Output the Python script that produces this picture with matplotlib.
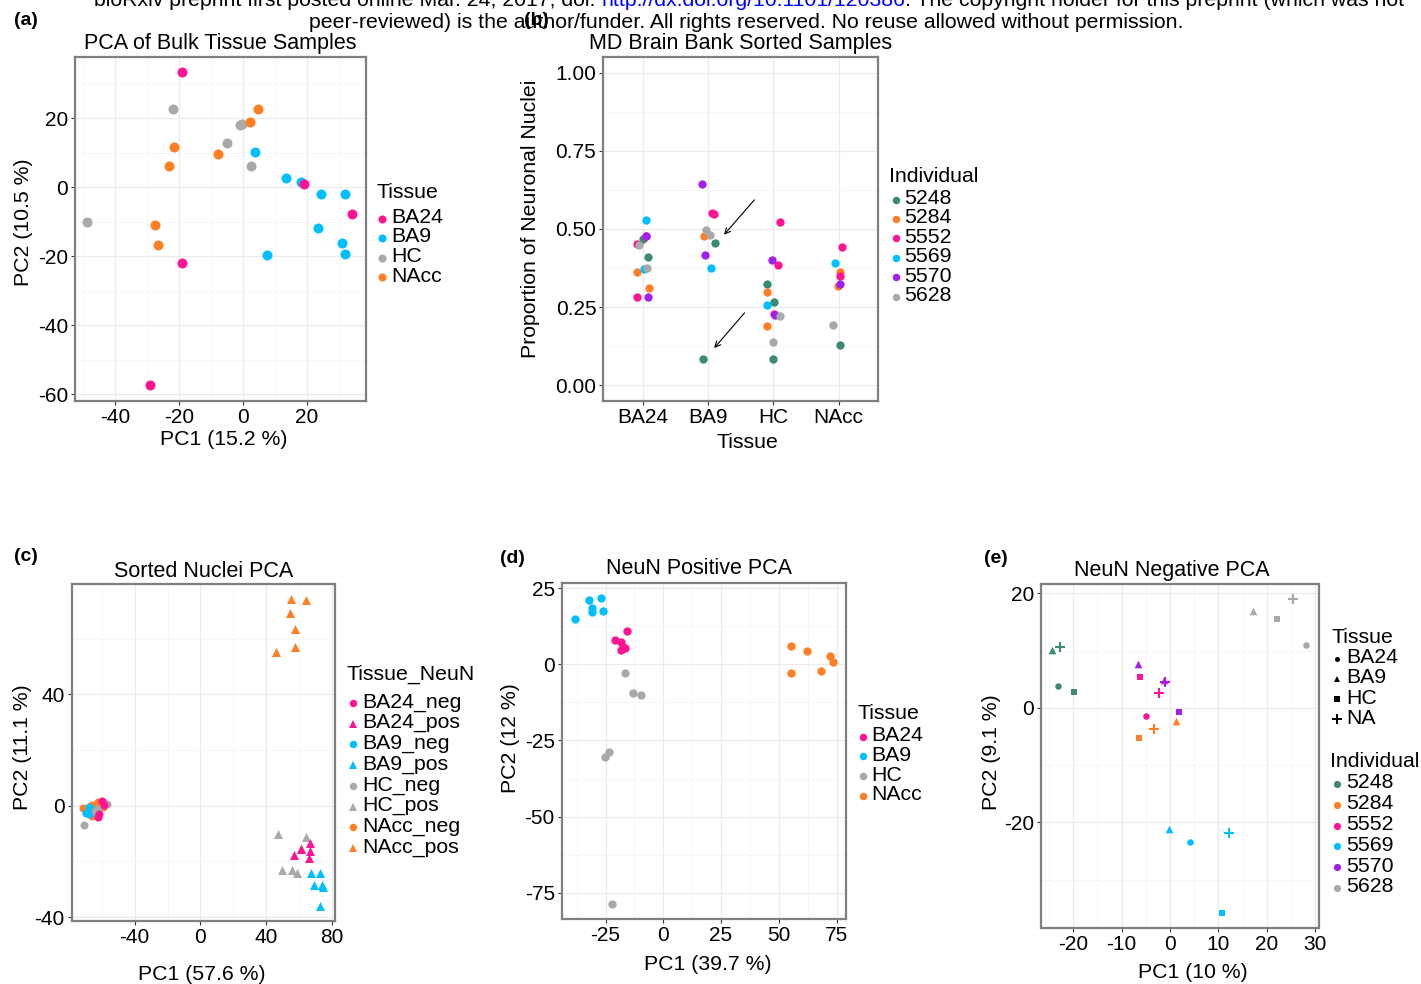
import matplotlib.pyplot as plt
from matplotlib.lines import Line2D

plt.rcParams['font.family'] = ['Liberation Sans', 'DejaVu Sans']
plt.rcParams['axes.unicode_minus'] = False

W, H = 1421, 984

PINK = '#FF1493'
BLUE = '#00BFFF'
GRAY = '#A9A9A9'
ORANGE = '#FF7F24'
GREEN = '#3B8B6E'
PURPLE = '#A020F0'

# ---------- (a) bulk tissue PCA ----------
bulk_tissues = ['BA24', 'BA9', 'HC', 'NAcc']
bulk_colors = [PINK, BLUE, GRAY, ORANGE]
bulk_pc1 = {
    'BA24': [-19.2, 19.0, 34.1, -19.0, -29.3],
    'BA9': [3.7, 13.5, 18.2, 24.6, 32.1, 23.6, 31.1, 32.1, 7.4],
    'HC': [-22.0, -0.9, -0.4, -4.9, 2.5, -49.0],
    'NAcc': [4.8, 2.3, -21.7, -7.7, -23.2, -27.5, -26.7],
}
bulk_pc2 = {
    'BA24': [33.4, 0.9, -7.7, -22.0, -57.4],
    'BA9': [10.4, 2.6, 1.6, -2.0, -1.9, -11.8, -16.2, -19.4, -19.6],
    'HC': [22.8, 18.2, 18.5, 12.9, 6.2, -10.0],
    'NAcc': [22.6, 19.0, 11.7, 9.8, 6.1, -11.0, -16.8],
}

# ---------- (b) proportion of neuronal nuclei ----------
individuals = ['5248', '5284', '5552', '5569', '5570', '5628']
indiv_colors = [GREEN, ORANGE, PINK, BLUE, PURPLE, GRAY]
sorted_tissues = ['BA24', 'BA9', 'HC', 'NAcc']
neun_indiv = ['5248'] * 8 + ['5284'] * 7 + ['5552'] * 10 + ['5569'] * 5 + ['5570'] * 7 + ['5628'] * 7
neun_tissue = ['BA24', 'BA24', 'BA9', 'BA9', 'HC', 'HC', 'HC', 'NAcc',
               'BA24', 'BA24', 'BA9', 'HC', 'HC', 'NAcc', 'NAcc',
               'BA24', 'BA24', 'BA24', 'BA9', 'BA9', 'HC', 'HC', 'HC', 'NAcc', 'NAcc',
               'BA24', 'BA24', 'BA9', 'HC', 'NAcc',
               'BA24', 'BA24', 'BA9', 'BA9', 'HC', 'HC', 'NAcc',
               'BA24', 'BA24', 'BA9', 'BA9', 'HC', 'HC', 'NAcc']
neun_jitter = [0.01, 0.09, 0.11, -0.08, -0.09, 0.01, -0.01, 0.02,
               -0.08, 0.10, -0.06, -0.09, -0.10, 0.03, -0.01,
               -0.09, 0.06, -0.09, 0.07, 0.09, 0.10, 0.07, 0.01, 0.06, 0.02,
               0.05, 0.03, 0.05, -0.09, -0.05,
               0.06, 0.09, -0.09, -0.04, -0.02, 0.03, 0.02,
               -0.06, 0.07, -0.03, 0.04, 0.10, 0.00, -0.09]
neun_prop = [0.469, 0.410, 0.456, 0.084, 0.323, 0.265, 0.085, 0.127,
             0.361, 0.310, 0.478, 0.297, 0.189, 0.361, 0.316,
             0.453, 0.476, 0.282, 0.551, 0.547, 0.524, 0.385, 0.228, 0.442, 0.350,
             0.528, 0.371, 0.375, 0.256, 0.391,
             0.477, 0.283, 0.645, 0.417, 0.401, 0.226, 0.324,
             0.449, 0.376, 0.498, 0.480, 0.220, 0.138, 0.191]

# ---------- (c) sorted nuclei PCA ----------
sorted_groups = ['BA24_neg', 'BA24_pos', 'BA9_neg', 'BA9_pos',
                 'HC_neg', 'HC_pos', 'NAcc_neg', 'NAcc_pos']
sorted_colors = [PINK, PINK, BLUE, BLUE, GRAY, GRAY, ORANGE, ORANGE]
sorted_pc1 = {
    'BA24_neg': [-62.5, -60.0, -58.8, -61.5],
    'BA9_neg': [-69.6, -67.5, -68.0, -65.5],
    'HC_neg': [-70.6, -57.0, -62.1, -64.0],
    'NAcc_neg': [-71.6, -66.1, -62.1, -59.4, -64.8, -65.8],
    'HC_pos': [47.5, 64.5, 60.9, 49.5, 55.6, 59.0],
    'BA24_pos': [66.9, 57.2, 66.9, 66.1, 61.5],
    'BA9_pos': [67.3, 72.8, 69.0, 73.8, 74.8, 72.8],
    'NAcc_pos': [55.2, 64.3, 54.8, 57.4, 57.6, 46.2],
}
sorted_pc2 = {
    'BA24_neg': [-4.0, 1.7, 0.3, -3.0],
    'BA9_neg': [-2.5, -0.4, -3.0, -1.5],
    'HC_neg': [-6.8, 0.5, -1.3, -2.0],
    'NAcc_neg': [-0.7, -3.7, 1.4, -0.4, -2.7, 0.3],
    'HC_pos': [-10.2, -11.4, -15.2, -23.1, -23.1, -24.3],
    'BA24_pos': [-13.3, -17.6, -16.4, -18.9, -15.7],
    'BA9_pos': [-24.3, -24.3, -28.5, -28.5, -29.1, -35.9],
    'NAcc_pos': [74.3, 73.9, 69.1, 63.6, 56.9, 55.1],
}

# ---------- (d) NeuN positive PCA ----------
pos_pc1 = {
    'BA9': [-38.2, -32.2, -26.8, -31.0, -30.7, -26.1],
    'BA24': [-15.6, -21.1, -18.2, -17.6, -18.5, -16.7],
    'HC': [-16.5, -13.1, -9.7, -23.5, -25.3, -22.4],
    'NAcc': [55.4, 62.3, 72.2, 73.6, 55.4, 68.3],
}
pos_pc2 = {
    'BA9': [14.9, 21.1, 21.8, 18.4, 17.1, 17.6],
    'BA24': [11.1, 7.9, 7.3, 5.6, 4.7, 5.3],
    'HC': [-2.8, -9.5, -10.0, -28.7, -30.3, -78.6],
    'NAcc': [6.0, 4.5, 2.8, 0.8, -2.7, -2.3],
}

# ---------- (e) NeuN negative PCA ----------
neg_tissues = ['BA24', 'BA9', 'HC', 'NA']
neg_markers = {'BA24': 'o', 'BA9': '^', 'HC': 's', 'NA': '+'}
neg_sizes = {'BA24': 22, 'BA9': 30, 'HC': 22, 'NA': 55}
neg_indiv = ['5248', '5248', '5248', '5248',
             '5552', '5552', '5552', '5552',
             '5570', '5570', '5570',
             '5284', '5284', '5284',
             '5569', '5569', '5569', '5569',
             '5628', '5628', '5628', '5628']
neg_tissue = ['BA9', 'NA', 'BA24', 'HC',
              'BA9', 'HC', 'NA', 'BA24',
              'BA9', 'NA', 'HC',
              'NA', 'BA9', 'HC',
              'BA9', 'BA24', 'NA', 'HC',
              'BA9', 'HC', 'NA', 'BA24']
neg_pc1 = [-24.3, -22.7, -23.1, -19.9,
           -1.2, -6.1, -2.3, -5.0,
           -6.7, -1.1, 1.9,
           -3.4, 1.2, -6.5,
           -0.2, 4.2, 12.1, 10.8,
           17.1, 22.1, 25.4, 28.1]
neg_pc2 = [10.1, 10.7, 3.8, 2.7,
           4.9, 5.4, 2.6, -1.4,
           7.6, 4.6, -0.8,
           -3.7, -2.3, -5.2,
           -21.2, -23.4, -21.9, -35.9,
           16.9, 15.6, 19.0, 11.0]

TICK = 15
LAB = 15.3
TITLE = 15.5
LEG = 15.3


def gg_axes(ax, xlim, ylim, xmajor, ymajor, xminor, yminor):
    ax.set_xlim(xlim)
    ax.set_ylim(ylim)
    ax.set_xticks(xmajor)
    ax.set_yticks(ymajor)
    if xminor:
        ax.set_xticks(xminor, minor=True)
    ax.set_yticks(yminor, minor=True)
    ax.grid(True, which='major', color='#EBEBEB', lw=0.9)
    ax.grid(True, which='minor', color='#F3F3F3', lw=0.5)
    ax.set_axisbelow(True)
    ax.tick_params(which='major', length=3, width=0.8, color='#333333',
                   labelsize=TICK, pad=2)
    ax.tick_params(which='minor', length=0)
    for s in ax.spines.values():
        s.set_color('#7F7F7F')
        s.set_linewidth(1.6)


def fpos(left, top, right, bottom):
    return [left / W, 1 - bottom / H, (right - left) / W, (bottom - top) / H]


def key_legend(x_title, y_title, title, x_mark, x_text, y_first, step,
               labels, colors, markers, msize):
    fig.text(x_title / W, 1 - y_title / H, title, fontsize=LEG, va='baseline')
    for i, lab in enumerate(labels):
        yb = y_first + i * step
        fig.text(x_text / W, 1 - yb / H, lab, fontsize=LEG, va='baseline')
        mk = markers[i]
        fig.add_artist(Line2D([x_mark / W], [1 - (yb - 4.5) / H],
                              transform=fig.transFigure, marker=mk,
                              color=colors[i], markersize=msize[i],
                              markeredgewidth=1.4 if mk == '+' else 0,
                              linestyle='none'))


fig = plt.figure(figsize=(W / 100, H / 100), dpi=100, facecolor='white')

# ---- header ----
fig.text(746 / W, 1 - 28 / H,
         'peer-reviewed) is the author/funder. All rights reserved. '
         'No reuse allowed without permission.',
         fontsize=15.3, ha='center', va='baseline')
parts = [('bioRxiv preprint first posted online Mar. 24, 2017; doi: ', 'black'),
         ('http://dx.doi.org/10.1101/120386', 'blue'),
         ('. The copyright holder for this preprint (which was not', 'black')]
renderer = fig.canvas.get_renderer()
texts = [fig.text(0, 1 - 5.5 / H, s, fontsize=15.3, color=c, va='baseline')
         for s, c in parts]
widths = [t.get_window_extent(renderer).width for t in texts]
x0 = 749 - sum(widths) / 2
for t, w in zip(texts, widths):
    t.set_x(x0 / W)
    x0 += w

# ---- (a) ----
ax = fig.add_axes(fpos(75, 57, 365.7, 401))
for t in ['HC', 'BA9', 'NAcc', 'BA24']:
    ax.scatter(bulk_pc1[t], bulk_pc2[t], s=52, color=bulk_colors[bulk_tissues.index(t)],
               linewidths=0, zorder=3)
gg_axes(ax, (-52.7, 38.5), (-61.9, 37.8), [-40, -20, 0, 20], [-60, -40, -20, 0, 20],
        [-50, -30, -10, 10, 30], [-50, -30, -10, 10, 30])
ax.set_title('PCA of Bulk Tissue Samples', fontsize=TITLE, pad=5.6)
ax.set_xlabel('PC1 (15.2 %)', fontsize=LAB)
ax.set_ylabel('PC2 (10.5 %)', fontsize=LAB)
ax.xaxis.set_label_coords(0.511, -0.084)
ax.yaxis.set_label_coords(-0.144, 0.52)
key_legend(376.7, 198, 'Tissue', 382, 391.7, 223, 19.5, bulk_tissues, bulk_colors,
           ['o'] * 4, [5.8] * 4)

# ---- (b) ----
ax = fig.add_axes(fpos(603.3, 57.3, 877.7, 400.7))
for ind, tis, jit, p in zip(neun_indiv, neun_tissue, neun_jitter, neun_prop):
    ax.scatter(sorted_tissues.index(tis) + 1 + jit, p, s=36,
               color=indiv_colors[individuals.index(ind)], linewidths=0, zorder=3)
gg_axes(ax, (0.4, 4.6), (-0.05, 1.05), [1, 2, 3, 4], [0, 0.25, 0.5, 0.75, 1.0],
        None, [0.125, 0.375, 0.625, 0.875])
ax.set_xticklabels(sorted_tissues)
ax.set_yticklabels(['0.00', '0.25', '0.50', '0.75', '1.00'])
ax.annotate('', xy=(2.22, 0.475), xytext=(2.74, 0.600),
            arrowprops=dict(arrowstyle='->', lw=0.8, color='black'))
ax.annotate('', xy=(2.07, 0.112), xytext=(2.59, 0.238),
            arrowprops=dict(arrowstyle='->', lw=0.8, color='black'))
ax.set_title('MD Brain Bank Sorted Samples', fontsize=TITLE, pad=5.8)
ax.set_xlabel('Tissue', fontsize=LAB)
ax.set_ylabel('Proportion of Neuronal Nuclei', fontsize=LAB)
ax.xaxis.set_label_coords(0.525, -0.094)
ax.yaxis.set_label_coords(-0.231, 0.53)
key_legend(889.3, 181.7, 'Individual', 895.7, 904, 204, 19.4, individuals,
           indiv_colors, ['o'] * 6, [5.4] * 6)

# ---- (c) ----
ax = fig.add_axes(fpos(71.7, 584.3, 334.7, 920.7))
draw_order = ['NAcc_pos', 'HC_pos', 'BA24_pos', 'BA9_pos',
              'NAcc_neg', 'BA9_neg', 'HC_neg', 'BA24_neg']
for g in draw_order:
    pos = g.endswith('_pos')
    ax.scatter(sorted_pc1[g], sorted_pc2[g], s=42 if pos else 34,
               marker='^' if pos else 'o',
               color=sorted_colors[sorted_groups.index(g)], linewidths=0, zorder=3)
gg_axes(ax, (-78.3, 81.7), (-41.3, 79.5), [-40, 0, 40, 80], [-40, 0, 40],
        [-60, -20, 20, 60], [-20, 20, 60])
ax.set_title('Sorted Nuclei PCA', fontsize=TITLE, pad=5.5)
ax.set_xlabel('PC1 (57.6 %)', fontsize=LAB)
ax.set_ylabel('PC2 (11.1 %)', fontsize=LAB)
ax.xaxis.set_label_coords(0.495, -0.132)
ax.yaxis.set_label_coords(-0.152, 0.516)
key_legend(346.7, 680, 'Tissue_NeuN', 353.3, 362.7, 707.5, 20.7, sorted_groups,
           sorted_colors, ['o', '^'] * 4, [5.4, 5.4] * 4)

# ---- (d) ----
ax = fig.add_axes(fpos(561.7, 582.7, 846, 919))
for t in ['BA9', 'BA24', 'HC', 'NAcc']:
    ax.scatter(pos_pc1[t], pos_pc2[t], s=36, color=bulk_colors[bulk_tissues.index(t)],
               linewidths=0, zorder=3)
gg_axes(ax, (-44.0, 79.1), (-83.6, 26.8), [-25, 0, 25, 50, 75], [-75, -50, -25, 0, 25],
        [-37.5, -12.5, 12.5, 37.5, 62.5], [-62.5, -37.5, -12.5, 12.5])
ax.set_title('NeuN Positive PCA', fontsize=TITLE, pad=6.2, x=0.483)
ax.set_xlabel('PC1 (39.7 %)', fontsize=LAB)
ax.set_ylabel('PC2 (12 %)', fontsize=LAB)
ax.xaxis.set_label_coords(0.515, -0.107)
ax.yaxis.set_label_coords(-0.147, 0.538)
key_legend(857.7, 719.3, 'Tissue', 863, 871.7, 741, 19.8, bulk_tissues, bulk_colors,
           ['o'] * 4, [5.4] * 4)

# ---- (e) ----
ax = fig.add_axes(fpos(1040.7, 583.7, 1318.7, 928.3))
for ind, tis, x, y in zip(neg_indiv, neg_tissue, neg_pc1, neg_pc2):
    ax.scatter(x, y, s=neg_sizes[tis], marker=neg_markers[tis],
               color=indiv_colors[individuals.index(ind)],
               linewidths=1.5 if tis == 'NA' else 0, zorder=3)
gg_axes(ax, (-26.7, 30.7), (-38.5, 21.7), [-20, -10, 0, 10, 20, 30], [-20, 0, 20],
        [-25, -15, -5, 5, 15, 25], [-30, -10, 10])
ax.set_title('NeuN Negative PCA', fontsize=TITLE, pad=5.5, x=0.47)
ax.set_xlabel('PC1 (10 %)', fontsize=LAB)
ax.set_ylabel('PC2 (9.1 %)', fontsize=LAB)
ax.xaxis.set_label_coords(0.548, -0.102)
ax.yaxis.set_label_coords(-0.144, 0.51)
key_legend(1331, 643, 'Tissue', 1336.7, 1346, 663, 20.3, neg_tissues,
           ['black'] * 4, ['o', '^', 's', '+'], [3.6, 4.6, 3.8, 7.5])
key_legend(1330, 766.7, 'Individual', 1336.7, 1346, 788.5, 20.8, individuals,
           indiv_colors, ['o'] * 6, [5.2] * 6)

# ---- panel letters ----
for lab, x, y in [('(a)', 14, 25), ('(b)', 524, 25), ('(c)', 14, 561),
                  ('(d)', 500, 563), ('(e)', 984, 563)]:
    fig.text(x / W, 1 - y / H, lab, fontsize=14, fontweight='bold', va='baseline')

fig.savefig('out.png', dpi=100, facecolor='white')
